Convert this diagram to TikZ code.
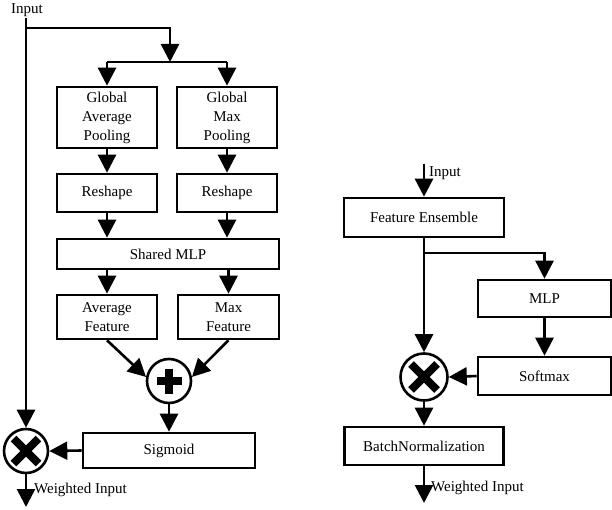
\documentclass[tikz,border=0pt]{standalone}
\usepackage{fontspec}
\setmainfont{Liberation Serif}
\usetikzlibrary{arrows.meta}
\begin{document}
\begin{tikzpicture}[x=1pt,y=-1pt,
  every node/.style={font=\rmfamily\fontsize{15}{19}\selectfont},
  box/.style={draw,line width=2.6pt,align=center,inner sep=0pt},
  op/.style={draw,circle,line width=2.6pt,minimum size=44pt,inner sep=0pt},
  arr/.style={line width=2.6pt,-{Triangle[length=18pt,width=18pt]}},
  ln/.style={line width=2.6pt},
  sym/.style={line width=8pt}]
\useasboundingbox (0,0) rectangle (612,510);
% left diagram
\node[box,minimum width=100pt,minimum height=61pt] (gap) at (107,117.5) {Global\\Average\\Pooling};
\node[box,minimum width=100pt,minimum height=61pt] (gmp) at (227,117.5) {Global\\Max\\Pooling};
\node[box,minimum width=100pt,minimum height=38pt] (rs1) at (107,193) {Reshape};
\node[box,minimum width=100pt,minimum height=38pt] (rs2) at (227,193) {Reshape};
\node[box,minimum width=222pt,minimum height=30pt] (smlp) at (168,254) {Shared MLP};
\node[box,minimum width=100pt,minimum height=44pt] (af) at (107,317) {Average\\Feature};
\node[box,minimum width=101pt,minimum height=44pt] (mf) at (228.5,317) {Max\\Feature};
\node[op] (plus) at (169,381) {};
\node[box,minimum width=172pt,minimum height=35pt] (sig) at (169,450.5) {Sigmoid};
\node[op] (t1) at (26,451) {};
\node[anchor=west,inner sep=0pt] (inl) at (11,10) {Input};
\node[anchor=west,inner sep=0pt] (outl) at (34,490) {Weighted Input};
\coordinate (in1) at (26,18);
\coordinate (c1) at (26,28);
\coordinate (split) at (170,62);
\coordinate (out1) at (26,507);
\draw[arr] (in1) -- (t1.north);
\draw[arr] (c1) -| (split);
\draw[ln] (split -| gap) -- (split -| gmp);
\draw[arr] (split -| gap) -- (gap.north);
\draw[arr] (split -| gmp) -- (gmp.north);
\draw[arr] (gap.south) -- (rs1.north);
\draw[arr] (gmp.south) -- (rs2.north);
\draw[arr] (rs1.south) -- (rs1.south |- smlp.north);
\draw[arr] (rs2.south) -- (rs2.south |- smlp.north);
\draw[arr] (af.north |- smlp.south) -- (af.north);
\draw[arr] (mf.north |- smlp.south) -- (mf.north);
\draw[arr] (af.south) -- (plus.170);
\draw[arr] (mf.south) -- (plus.10);
\draw[arr] (plus.south) -- (sig.north);
\draw[arr] (sig.west) -- (t1.east);
\draw[arr] (t1.south) -- (out1);
\draw[sym] ([shift={(-12.5,0)}]plus.center) -- ([shift={(12.5,0)}]plus.center);
\draw[sym] ([shift={(0,-12.5)}]plus.center) -- ([shift={(0,12.5)}]plus.center);
\draw[sym] ([shift={(-12.5,-12.5)}]t1.center) -- ([shift={(12.5,12.5)}]t1.center);
\draw[sym] ([shift={(-12.5,12.5)}]t1.center) -- ([shift={(12.5,-12.5)}]t1.center);
% right diagram
\node[box,minimum width=160pt,minimum height=39pt] (fe) at (424,217.5) {Feature Ensemble};
\node[op,minimum size=47pt] (t2) at (424,377) {};
\node[box,minimum width=133pt,minimum height=37pt] (mlp) at (544.5,298.5) {MLP};
\node[box,minimum width=133pt,minimum height=38pt] (soft) at (544.5,376) {Softmax};
\node[box,minimum width=159pt,minimum height=38pt] (bn) at (424,446) {BatchNormalization};
\node[anchor=west,inner sep=0pt] (inr) at (429,173) {Input};
\node[anchor=west,inner sep=0pt] (outr) at (431,488) {Weighted Input};
\coordinate (in2) at (424,164);
\coordinate (br) at (424,253);
\coordinate (out2) at (424,503);
\draw[arr] (in2) -- (fe.north);
\draw[arr] (fe.south) -- (t2.north);
\draw[arr] (br) -| (mlp.north);
\draw[arr] (mlp.south) -- (soft.north);
\draw[arr] (soft.west) -- (t2.east);
\draw[arr] (t2.south) -- (bn.north);
\draw[arr] (bn.south) -- (out2);
\draw[sym] ([shift={(-13,-13)}]t2.center) -- ([shift={(13,13)}]t2.center);
\draw[sym] ([shift={(-13,13)}]t2.center) -- ([shift={(13,-13)}]t2.center);
\end{tikzpicture}
\end{document}
